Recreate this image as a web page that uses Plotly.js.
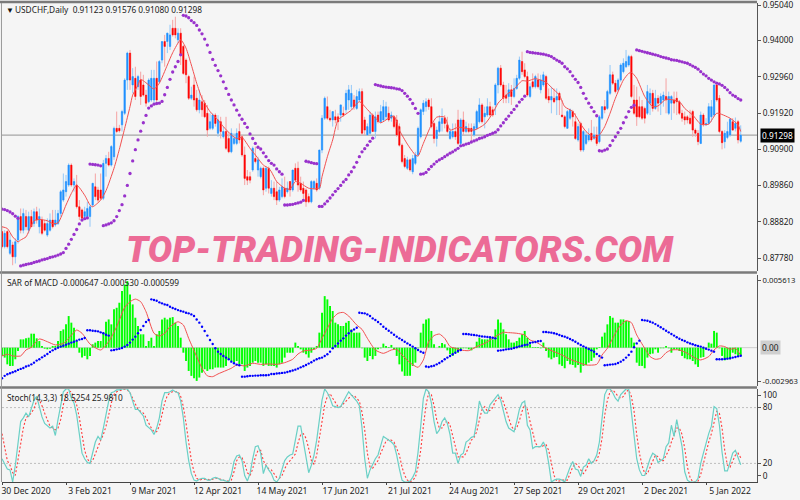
<!DOCTYPE html>
<html><head><meta charset="utf-8">
<script src="https://cdn.plot.ly/plotly-3.0.1.min.js"></script>
<style>html,body{margin:0;padding:0;background:#f5f5f5}</style></head>
<body><div id="chart" style="width:800px;height:500px"></div>
<script>
// Prices in pips (1 pip = 0.0001)
const openP=[8854,8811,8854,8792,8816,8782,8830,8897,8858,8897,
8858,8897,8877,8911,8868,8887,8877,8844,8858,8887,
8873,8877,8906,8944,8968,8987,9044,8987,8987,8925,
8916,8897,8897,8897,8930,8982,8973,8973,8949,9049,
9063,9044,9068,9149,9149,9159,9192,9287,9364,9273,
9292,9268,9287,9273,9244,9225,9230,9230,9292,9282,
9344,9397,9397,9383,9435,9435,9402,9421,9383,9344,
9297,9235,9273,9235,9202,9225,9221,9192,9149,9149,
9187,9135,9168,9125,9140,9120,9082,9106,9106,9140,
9125,9073,9011,9011,9030,9063,9030,9011,9035,8978,
9035,8963,8978,8968,8944,8954,8978,8968,8997,8973,
9035,9035,8992,8978,8973,8954,8939,8978,8992,8978,
9087,9178,9211,9178,9173,9182,9182,9187,9192,9202,
9230,9211,9230,9206,9230,9254,9173,9130,9135,9187,
9140,9187,9168,9173,9182,9192,9178,9182,9173,9154,
9101,9063,9035,9059,9025,9049,9073,9125,9197,9211,
9230,9211,9163,9120,9140,9163,9178,9159,9120,9125,
9140,9173,9106,9173,9140,9149,9149,9130,9149,9168,
9216,9182,9187,9211,9202,9216,9273,9321,9273,9244,
9240,9259,9240,9263,9292,9340,9316,9297,9240,9282,
9268,9287,9259,9273,9297,9240,9230,9235,9230,9249,
9187,9182,9149,9178,9197,9168,9116,9163,9087,9106,
9116,9135,9120,9130,9111,9178,9211,9206,9249,9302,
9278,9259,9287,9311,9325,9330,9354,9230,9230,9211,
9211,9206,9192,9221,9249,9206,9235,9221,9230,9240,
9192,9221,9230,9235,9225,9192,9182,9182,9178,9197,
9144,9135,9106,9187,9159,9163,9182,9187,9273,9235,
9140,9111,9123,9130,9168,9149,9168,9112.3];
const highP=[8868,8858,8858,8849,8825,8835,8901,8920,8920,8916,
8911,8916,8920,8925,8920,8897,8887,8892,8906,8916,
8916,8916,8973,9020,9016,9049,9049,9006,9016,8944,
8920,8925,8939,8930,8992,9020,8982,9020,9059,9073,
9082,9101,9154,9197,9159,9202,9292,9368,9373,9321,
9325,9302,9311,9302,9259,9292,9316,9316,9340,9344,
9397,9416,9421,9445,9459,9468,9435,9435,9387,9349,
9302,9268,9297,9259,9259,9244,9230,9216,9192,9192,
9192,9187,9182,9154,9182,9135,9149,9135,9149,9163,
9130,9097,9030,9025,9097,9097,9068,9040,9040,9040,
9040,9001,8997,8997,8982,9006,9011,8997,8997,9030,
9049,9054,9011,8997,8978,8963,9001,9001,9006,9087,
9187,9240,9240,9202,9197,9202,9192,9216,9211,9259,
9273,9273,9244,9259,9263,9263,9182,9163,9197,9192,
9197,9197,9216,9230,9225,9211,9197,9187,9187,9163,
9106,9073,9068,9063,9073,9082,9154,9206,9230,9235,
9235,9235,9168,9154,9187,9206,9187,9182,9149,9163,
9163,9202,9178,9197,9168,9163,9163,9163,9202,9235,
9221,9211,9235,9225,9211,9278,9325,9330,9282,9273,
9278,9273,9292,9302,9354,9368,9335,9311,9278,9306,
9302,9306,9302,9311,9302,9263,9268,9263,9263,9254,
9230,9187,9202,9206,9202,9192,9163,9168,9144,9140,
9149,9173,9154,9154,9187,9211,9230,9259,9330,9311,
9287,9292,9335,9349,9373,9359,9359,9273,9268,9240,
9230,9211,9273,9263,9259,9259,9244,9249,9254,9292,
9254,9244,9254,9254,9230,9202,9197,9187,9202,9202,
9149,9144,9197,9192,9178,9221,9230,9273,9273,9244,
9144,9144,9168,9178,9178,9180,9173,9157.6];
const lowP=[8806,8806,8806,8787,8758,8763,8820,8849,8849,8858,
8849,8868,8868,8877,8849,8844,8854,8839,8854,8863,
8868,8873,8897,8939,8954,8982,8982,8968,8920,8887,
8887,8887,8892,8868,8925,8944,8939,8944,8944,9011,
9040,9040,9059,9135,9137,9140,9187,9259,9259,9249,
9230,9259,9216,9240,9211,9221,9225,9221,9225,9278,
9335,9325,9364,9373,9411,9406,9392,9330,9302,9278,
9230,9230,9211,9197,9192,9182,9178,9125,9144,9144,
9154,9125,9120,9120,9087,9078,9078,9101,9101,9106,
9068,8987,8987,8992,9025,9049,9011,9006,8958,8968,
8963,8954,8944,8930,8939,8949,8949,8963,8954,8968,
8997,8968,8968,8944,8925,8935,8935,8973,8968,8973,
9078,9173,9173,9168,9154,9163,9144,9168,9182,9192,
9202,9202,9202,9202,9225,9130,9130,9130,9130,9140,
9120,9163,9163,9168,9173,9168,9168,9149,9125,9097,
9049,9035,9030,9025,9018,9044,9068,9120,9187,9197,
9202,9149,9106,9097,9135,9140,9149,9135,9116,9120,
9116,9101,9101,9130,9135,9135,9111,9125,9144,9163,
9163,9149,9182,9182,9182,9187,9249,9268,9221,9221,
9221,9216,9235,9259,9287,9302,9292,9240,9235,9263,
9263,9263,9249,9268,9230,9221,9192,9221,9187,9187,
9182,9149,9149,9173,9154,9116,9111,9082,9082,9101,
9111,9111,9116,9099,9106,9173,9192,9202,9244,9273,
9249,9254,9282,9306,9321,9325,9235,9187,9156,9178,
9173,9163,9187,9187,9197,9202,9197,9187,9211,9192,
9187,9173,9192,9187,9187,9168,9159,9163,9159,9125,
9125,9101,9104,9154,9156,9159,9168,9182,9225,9135,
9089,9092,9118,9125,9142,9140,9106,9108];
const closeP=[8811,8849,8811,8830,8782,8825,8897,8858,8906,8868,
8897,8868,8911,8887,8897,8849,8858,8877,8887,8868,
8887,8906,8968,8973,8997,9044,8987,8997,8925,8897,
8892,8911,8920,8925,8992,8954,8944,8949,9049,9063,
9044,9097,9149,9140,9142,9197,9287,9364,9287,9297,
9240,9297,9240,9244,9221,9287,9292,9292,9230,9340,
9397,9383,9421,9416,9416,9416,9421,9359,9306,9302,
9235,9244,9230,9202,9230,9202,9182,9144,9168,9187,
9163,9173,9140,9140,9092,9082,9135,9120,9135,9116,
9073,9006,9001,9001,9092,9054,9059,9035,8973,9035,
8978,8978,8954,8944,8973,8982,8954,8978,8973,9030,
9001,8987,8973,8963,8939,8939,8997,8997,8973,9087,
9178,9235,9178,9173,9197,9173,9168,9216,9187,9249,
9259,9249,9211,9240,9254,9135,9144,9154,9187,9140,
9182,9168,9197,9211,9211,9173,9187,9154,9130,9101,
9054,9040,9059,9030,9063,9073,9149,9202,9221,9225,
9211,9154,9120,9144,9168,9178,9163,9140,9140,9140,
9125,9106,9173,9140,9154,9140,9140,9154,9197,9216,
9168,9192,9211,9187,9187,9273,9321,9273,9235,9235,
9259,9240,9263,9292,9344,9311,9297,9244,9268,9268,
9297,9268,9287,9302,9235,9230,9240,9225,9240,9230,
9182,9154,9197,9202,9182,9120,9154,9087,9140,9130,
9130,9116,9130,9106,9182,9211,9202,9254,9302,9278,
9254,9287,9330,9335,9340,9354,9240,9192,9182,9182,
9178,9178,9254,9249,9206,9235,9221,9240,9244,9230,
9240,9240,9221,9225,9192,9178,9173,9173,9163,9144,
9135,9111,9187,9159,9163,9211,9211,9273,9230,9140,
9108,9135,9140,9175,9144,9163,9116,9129.8];
const sarP=[8918,8917,8914,8910,8905,8898,8892,
8756,8758,8760,8762,8763,8766,8768,8770,8773,8775,8777,8780,8782,8784,8787,8790,8794,
8806,8818,8832,8846,8860,8876,8887,8891,8893,
9047,9046,9045,9044,9042,
8871,8873,8876,8879,8885,8897,8914,8931,8956,8986,9020,9056,9088,9116,9141,9165,9186,9207,9213,9218,9220,9221,9226,9245,9266,9289,9310,9325,9340,9359,
9472,9470,9465,9457,9451,9443,9430,9419,9404,9387,9366,9346,9329,9314,9299,9282,9263,9246,9230,9216,9201,9187,9175,9163,9152,9133,9120,9106,9095,
9090,9079,9068,9057,9049,9044,9033,9025,9018,
8930,8930,8931,8932,8934,8936,8938,8943,
9055,9053,9051,9049,9048,
8926,8926,8933,8941,8950,8959,8969,8977,8986,8996,9003,9016,9025,9038,9052,9068,9082,9091,9101,9112,9121,
9274,9272,9270,9268,9267,9266,9265,9264,9262,9261,9257,9249,9241,9232,9220,9206,9192,
9018,9019,9023,9032,9040,9047,9054,9059,9063,9068,9073,9078,9082,9087,9092,9099,9101,9104,9106,9110,9113,9116,9120,9122,9125,9129,9132,9135,9138,9145,9156,9165,9175,9184,9194,9203,9213,9224,9232,9241,
9368,9366,9365,9364,9363,9362,9361,9359,9357,9354,9349,9344,9340,9335,9325,9319,9311,9299,9289,9280,9266,9249,9234,9221,9209,9197,9185,
9085,9084,9087,9090,9100,9114,9125,9137,9149,9165,9181,9197,9209,9215,
9373,9371,9369,9367,9365,9363,9361,9359,9357,9354,9352,9350,9348,9345,9344,9343,9341,9339,9337,9335,9331,9327,9323,9318,9311,9304,9299,9292,9287,9282,9278,9276,9272,9266,9259,9251,9244,9240,9234,9230];
const maBar=[0,2,4,6,7,9,10,12,14,17,19,21,24,26,28,31,33,34,37,39,42,44,46,48,49,51,52,55,57,59,62,64,67,69,71,73,75,78,81,83,86,88,90,93,95,98,
100,101,103,106,108,110,112,115,119,120,122,124,126,129,131,134,137,140,142,145,147,149,152,155,156,158,161,163,166,168,171,174,177,181,184,186,189,192,195,197,
199,200,204,206,209,211,214,217,219,222,224,226,228,230,233,235,236,238,241,244,246,249,254,256,259,262,265,268,273,276,277];
const maP=[8868,8863,8839,8825,8830,8839,8854,8885,8889,8885,8877,8879,8930,8963,8987,8958,8930,8925,8944,8971,9035,9089,9149,9211,9244,9273,9289,9273,9261,9278,9330,9365,9402,9378,9330,9278,9235,9197,9173,9154,9130,9120,9123,9092,9073,9044,
9035,9025,8997,8978,8975,8997,8992,8978,8978,9011,9068,9116,9173,9190,9201,9225,9203,9178,9165,9178,9184,9144,9104,9073,9070,9106,9159,9181,9181,9144,9152,9149,9144,9161,9192,9221,9244,9261,9285,9284,
9289,9291,9281,9266,9244,9211,9197,9161,9140,9123,9130,9154,9192,9235,9287,9306,9309,9292,9240,9211,9213,9232,9225,9206,9187,9161,9161,9192,9178,9159,9140];
// MACD values in units of 0.00001
const macdHist=[-64,-77,-129,-141,-141,-90,-26,64,64,72,
77,108,108,72,51,13,-8,-13,-8,13,
13,51,129,141,180,244,193,154,51,-39,
-77,-64,-90,-64,26,39,51,51,116,200,
218,180,296,308,347,437,488,514,411,334,
231,167,103,103,13,51,77,13,103,129,
218,231,218,231,236,193,167,77,-39,-103,
-180,-218,-236,-257,-231,-193,-167,-180,-167,-167,
-154,-154,-154,-154,-141,-90,-103,-116,-103,-129,
-129,-180,-154,-141,-116,-103,-116,-116,-141,-129,
-141,-141,-141,-154,-129,-116,-77,-39,-39,-39,
39,13,-13,-39,-51,-77,-39,-13,13,116,
270,398,373,321,283,193,180,167,167,193,
206,141,116,116,116,-5,-77,-103,-64,-90,
-64,-13,-5,31,13,5,21,-13,-64,-129,
-185,-218,-218,-218,-141,-116,-5,116,185,218,
226,129,26,0,13,36,26,-21,-51,-64,
-39,-39,-26,-5,-5,-13,-21,-5,46,77,
64,64,64,77,64,141,218,193,141,103,
64,39,39,51,77,103,129,77,26,5,
5,5,-5,39,-26,-77,-90,-77,-72,-129,
-141,-159,-103,-129,-134,-154,-134,-193,-141,-134,
-116,-103,-77,-13,5,85,116,180,244,231,
193,193,218,218,206,206,77,39,-116,-141,
-141,-159,-77,-51,-46,-13,-39,-5,-5,13,
-5,-39,-13,-13,-26,-64,-82,-90,-90,-103,
-129,-149,-77,-72,-5,39,31,129,116,-5,
-64,-98,-90,-90,-39,-51,-65,-65];
const macdSar=[-236,-218,-206,-198,-190,-182,-172,-164,-157,-146,
-139,-129,-116,-100,-90,-75,-62,-49,-33,-21,
-10,0,8,15,23,31,39,46,54,62,67,75,
134,134,131,129,126,118,111,100,93,
-21,-18,-13,-8,-3,8,21,39,62,85,111,136,167,198,213,
373,368,362,350,342,334,329,316,306,298,290,283,278,270,265,257,244,218,193,162,129,93,59,28,-5,-31,-49,-64,-77,-90,-108,-121,-131,-136,
-224,-224,-221,-218,-218,-216,-216,-213,-213,-213,-211,
-203,-203,-200,-198,-195,-193,-188,-182,-177,-170,-162,-152,-144,-134,-123,-113,-100,-90,-82,-77,-64,-51,-31,-5,13,33,54,72,93,111,129,141,154,
270,267,265,257,244,226,213,198,182,162,146,131,116,100,85,72,59,46,33,21,8,-5,-18,-31,-39,
-146,-149,-144,-139,-129,-118,-105,-90,-77,-64,-51,-39,-26,-18,
105,105,103,100,98,95,90,87,85,82,80,77,72,
-23,-21,-18,-13,-10,-8,-3,3,10,15,21,23,36,41,44,49,51,
121,121,118,116,111,105,98,90,85,77,67,57,46,33,21,10,0,-10,-21,-31,-49,-64,-77,
-136,-134,-131,-129,-126,-118,-108,-95,-77,-57,-31,3,33,54,
213,211,208,200,193,182,170,157,144,131,118,105,93,80,69,59,51,41,33,26,18,13,8,0,-8,-15,-23,-31,
-90,-90,-90,-87,-85,-82,-77,-72,-67,-62];
const signalBar=[0,2,4,7,9,11,14,17,20,23,25,28,30,33,37,40,43,46,48,50,52,54,57,59,61,63,66,68,70,73,75,77,79,81,84,86,88,91,94,
97,100,103,106,109,111,113,116,118,120,122,124,126,128,130,133,135,137,140,143,146,148,150,153,156,158,160,162,164,166,168,170,172,175,178,181,184,186,188,190,193,196,
198,200,202,204,207,210,213,216,219,223,225,227,230,232,234,236,238,241,243,245,247,249,251,254,257,260,262,265,267,269,271,273,275,277];
const signalVal=[-64,-51,-64,-64,-18,3,67,46,21,33,72,136,111,28,-18,46,162,311,355,375,355,278,111,90,111,162,200,175,72,-69,-159,-218,-224,-203,-177,-159,-134,-141,-121,
-129,-126,-129,-116,-90,-49,-26,-18,-5,72,149,226,265,272,244,175,141,72,-18,-44,-18,-13,-57,-116,-152,-95,46,93,105,72,8,-5,-18,-23,8,33,72,98,118,116,111,98,
59,46,21,-5,-31,-57,-90,-113,-134,-129,-57,-5,111,175,208,193,98,-5,-69,-90,-82,-39,-18,-18,-44,-82,-95,-69,-18,13,8,-13,-5,-60];
const stochK=[25,20,14,13,0,18,43,65,69,74,
70,79,88,92,81,70,63,60,58,60,
50,67,83,97,100,100,90,85,72,51,
31,25,21,20,32,43,49,45,58,74,
87,96,97,99,99,100,100,100,96,87,
78,78,74,71,61,58,56,51,58,69,
87,96,96,97,99,97,96,87,69,43,
23,9,2,1,3,4,4,2,2,4,
5,4,2,2,1,0,8,22,28,29,
23,7,1,9,25,38,39,31,9,18,
13,9,2,0,4,13,23,27,29,30,
47,60,60,43,23,10,18,29,45,69,
88,100,96,90,82,81,80,81,87,92,
97,94,91,87,82,58,25,4,13,20,
25,29,38,49,47,45,43,40,29,14,
2,0,0,1,5,11,32,60,90,100,
97,85,65,52,56,65,69,63,51,31,
31,20,29,31,43,45,48,49,65,87,
79,74,74,83,87,90,94,88,76,65,
58,56,54,65,78,85,87,61,56,36,
38,38,38,43,36,20,0,2,3,3,
2,0,9,16,22,14,13,6,16,18,
25,20,23,29,43,72,94,100,100,96,
90,87,94,97,100,100,76,51,25,13,
7,7,16,25,31,29,21,23,25,38,
42,61,49,67,51,38,11,2,0,0,
0,4,20,31,43,52,60,81,79,61,
32,12,12,23,31,34,27,18.5];
const stochD=[52,36,23,18,10,7,23,43,58,69,
72,74,79,87,88,82,74,67,60,58,
56,58,67,83,94,98,97,90,83,69,
51,34,25,21,23,31,38,45,51,60,
72,85,94,97,98,99,100,99,96,90,
83,78,76,74,69,63,58,54,54,60,
72,85,93,96,97,97,97,92,81,63,
43,23,11,4,2,3,3,3,2,3,
4,4,3,2,1,1,2,11,23,27,
26,20,10,7,14,27,34,34,23,18,
14,13,9,5,4,7,14,20,23,27,
30,42,51,52,47,36,23,19,29,47,
65,83,92,95,90,85,81,81,84,87,
91,93,93,90,87,75,56,31,16,15,
19,23,31,38,44,46,45,43,36,29,
16,7,2,0,2,5,16,34,60,83,
96,94,82,67,58,58,63,66,61,49,
38,27,27,27,31,38,45,48,54,67,
78,81,76,77,80,87,90,92,86,77,
67,60,56,58,66,76,83,78,65,52,
42,38,38,39,40,34,22,7,1,1,
2,2,2,9,16,20,18,13,9,13,
20,21,22,23,31,47,72,88,97,99,
96,92,90,92,97,99,92,76,51,31,
18,9,9,16,23,29,27,23,23,29,
34,43,51,58,58,51,36,16,5,0,
0,1,8,20,31,43,52,65,76,74,
58,34,18,16,23,29,31,26];
const priceTicks=[0.95,0.94,0.9296,0.9192,0.909,0.8986,0.8882,0.8778];
const priceLabels=['0.95040','0.94000','0.92960','0.91920','0.90900','0.89860','0.88820','0.87780'];
const dateBars=[0,24,48,72,96,120,144,168,192,216,240,264];
const dateLabels=['30 Dec 2020','3 Feb 2021','9 Mar 2021','12 Apr 2021','14 May 2021','17 Jun 2021','21 Jul 2021','24 Aug 2021','27 Sep 2021','29 Oct 2021','2 Dec 2021','5 Jan 2022'];

const bars=openP.map((_,i)=>i);
const p=v=>v/10000, m=v=>v*1e-5;
const FONT='"Noto Sans", sans-serif', FS=8.3, TXT='#222';
const price={open:openP.map(p),high:highP.map(p),low:lowP.map(p),close:closeP.map(p)};
const wickTrace={type:'candlestick',x:bars,...price,whiskerwidth:0,hoverinfo:'skip',showlegend:false,xaxis:'x',yaxis:'y',
  increasing:{line:{color:'#93c8f8',width:1},fillcolor:'#93c8f8'},
  decreasing:{line:{color:'#f5a3a3',width:1},fillcolor:'#f5a3a3'}};
const bodyTrace={type:'candlestick',x:bars,open:price.open,close:price.close,
  high:price.open.map((o,i)=>Math.max(o,price.close[i])),low:price.open.map((o,i)=>Math.min(o,price.close[i])),
  whiskerwidth:0,hoverinfo:'skip',showlegend:false,xaxis:'x',yaxis:'y',
  increasing:{line:{color:'#1e90ff',width:0.4},fillcolor:'#1e90ff'},
  decreasing:{line:{color:'#ff0000',width:0.4},fillcolor:'#ff0000'}};
const traces=[wickTrace,bodyTrace,
 {type:'scatter',mode:'lines',x:maBar,y:maP.map(p),line:{color:'#f25050',width:1,shape:'spline',smoothing:0.6},hoverinfo:'skip',showlegend:false,xaxis:'x',yaxis:'y'},
 {type:'scatter',mode:'markers',x:bars,y:sarP.map(p),marker:{color:'#9932cc',size:3.3},hoverinfo:'skip',showlegend:false,xaxis:'x',yaxis:'y'},
 {type:'bar',x:bars,y:macdHist.map(m),width:0.72,marker:{color:'#00ff00',line:{width:0}},hoverinfo:'skip',showlegend:false,xaxis:'x',yaxis:'y2'},
 {type:'scatter',mode:'lines',x:signalBar,y:signalVal.map(m),line:{color:'#f25050',width:1,shape:'spline',smoothing:0.6},hoverinfo:'skip',showlegend:false,xaxis:'x',yaxis:'y2'},
 {type:'scatter',mode:'markers',x:bars,y:macdSar.map(m),marker:{color:'#0000ff',size:2.4},hoverinfo:'skip',showlegend:false,xaxis:'x',yaxis:'y2'},
 {type:'scatter',mode:'lines',x:bars,y:stochD,line:{color:'#ff3b3b',width:1.1,dash:'2px,2px'},hoverinfo:'skip',showlegend:false,xaxis:'x',yaxis:'y3'},
 {type:'scatter',mode:'lines',x:bars,y:stochK,line:{color:'#6ad0c6',width:1.2},hoverinfo:'skip',showlegend:false,xaxis:'x',yaxis:'y3'}
];
const yBase={side:'right',showgrid:false,zeroline:false,showline:true,linecolor:'#555',linewidth:1,ticks:'outside',ticklen:3,tickcolor:'#555',tickwidth:1,
  ticklabeloverflow:'allow',tickfont:{family:FONT,size:FS,color:TXT},fixedrange:true,anchor:'x'};
const hline=(yref,y,color,width,dash)=>({type:'line',xref:'x domain',x0:0,x1:1,yref,y0:y,y1:y,line:{color,width,dash:dash||'solid'},layer:'below'});
const sep=(py)=>({type:'line',xref:'paper',x0:-0.003,x1:1,yref:'paper',y0:(482-py)/479,y1:(482-py)/479,line:{color:'#7a7a7a',width:2.4},layer:'above'});
const txt=(px,py,text,extra)=>Object.assign({xref:'paper',yref:'paper',x:(px-2)/755,y:(482-py)/479,xanchor:'left',yanchor:'middle',showarrow:false,text,
  font:{family:FONT,size:FS,color:TXT}},extra||{});
const layout={width:800,height:500,margin:{l:2,r:43,t:3,b:18,pad:0},paper_bgcolor:'#f5f5f5',plot_bgcolor:'#f5f5f5',showlegend:false,dragmode:false,boxgap:0.32,bargap:0.2,
 xaxis:{domain:[0,1],range:[0,283.1],anchor:'y3',rangeslider:{visible:false},showgrid:false,zeroline:false,showline:true,linecolor:'#444',linewidth:1,
   ticks:'outside',ticklen:2,tickcolor:'#444',tickmode:'array',tickvals:dateBars,ticktext:dateLabels,ticklabelshift:24,ticklabelstandoff:-1,tickangle:0,
   tickfont:{family:FONT,size:8.6,color:TXT},fixedrange:true},
 yaxis:Object.assign({},yBase,{domain:[0.4405,1],range:[0.87415,0.95071],tickmode:'array',tickvals:priceTicks,ticktext:priceLabels}),
 yaxis2:Object.assign({},yBase,{domain:[0.2004,0.4322],range:[-0.002963,0.005613],tickmode:'array',tickvals:[0.005173,-0.002577],ticktext:['0.005613','-0.002963'],tickfont:{family:FONT,size:7.7,color:TXT}}),
 yaxis3:Object.assign({},yBase,{domain:[0,0.1942],range:[0,100],tickmode:'array',tickvals:[93.5,80,20,6.5],ticktext:['100','80','20','0']}),
 shapes:[
  hline('y',0.91298,'#a6a6a6',1.2),
  hline('y2',0,'#cfcfcf',1),
  hline('y3',80,'#bdbdbd',1,'2px,2px'),
  hline('y3',20,'#bdbdbd',1,'2px,2px'),
  sep(2),sep(272.5),sep(387.5),
  {type:'line',xref:'paper',yref:'paper',x0:-0.0007,x1:-0.0007,y0:0,y1:1,line:{color:'#9a9a9a',width:1}}
 ],
 annotations:[
  txt(4,10,'▼',{font:{family:FONT,size:8,color:'#111'}}),
  txt(13,10,'USDCHF,Daily  0.91123 0.91576 0.91080 0.91298'),
  txt(4.5,282,'SAR of MACD -0.000647 -0.000530 -0.000599'),
  txt(4.5,397,'Stoch(14,3,3) 18.5254 25.9810'),
  txt(760,135,'0.91298',{font:{family:FONT,size:FS,color:'#fff'},bgcolor:'#000',borderpad:1}),
  txt(760,347.7,'0.00',{bgcolor:'#cfcfcf',borderpad:1}),
  {xref:'paper',yref:'paper',x:(400-2)/755,y:(482-249)/479,xanchor:'center',yanchor:'middle',showarrow:false,
   text:'TOP-TRADING-INDICATORS.COM',font:{family:'Roboto, sans-serif',size:36.4,weight:900,style:'italic',color:'#ec6b96'}}
 ]};
Plotly.newPlot('chart',traces,layout,{staticPlot:true,displayModeBar:false});
</script></body></html>
